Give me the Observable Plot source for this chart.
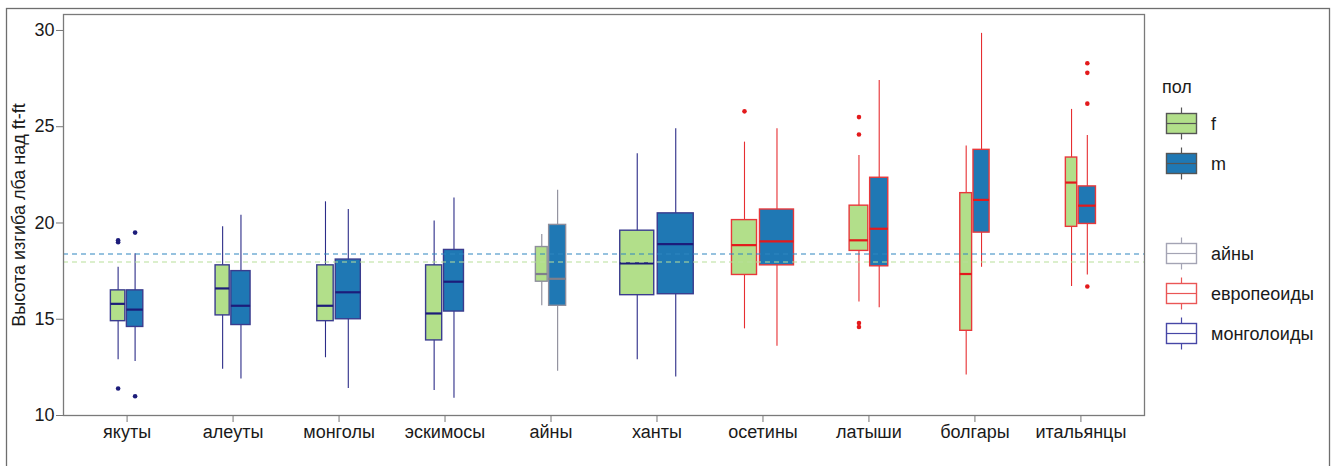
<!DOCTYPE html>
<html><head><meta charset="utf-8">
<script src="https://cdn.jsdelivr.net/npm/d3@7"></script>
<script src="https://cdn.jsdelivr.net/npm/@observablehq/plot@0.6"></script>
<style>
body{margin:0;background:#fff;}
#chart{position:relative;width:1335px;height:466px;overflow:hidden;}
</style>
</head><body><div id="chart"></div>
<script>
// ---- data ----
const categories = ["якуты","алеуты","монголы","эскимосы","айны","ханты","осетины","латыши","болгары","итальянцы"];
const raceGroup = ["монголоиды","монголоиды","монголоиды","монголоиды","айны","монголоиды","европеоиды","европеоиды","европеоиды","европеоиды"];
const sexes = ["f","m"];
// per category: [f, m]
const lowerWhisker = [[12.9,12.8],[12.4,11.9],[13.0,11.4],[11.3,10.9],[15.7,12.3],[12.9,12.0],[14.5,13.6],[15.9,15.6],[12.1,17.7],[16.7,17.3]];
const quartile1    = [[14.9,14.6],[15.2,14.7],[14.9,15.0],[13.9,15.4],[16.95,15.7],[16.25,16.3],[17.3,17.8],[18.55,17.75],[14.4,19.5],[19.8,19.95]];
const medians      = [[15.8,15.5],[16.6,15.7],[15.7,16.4],[15.3,16.95],[17.35,17.1],[17.9,18.9],[18.85,19.05],[19.1,19.7],[17.35,21.2],[22.1,20.9]];
const quartile3    = [[16.5,16.5],[17.8,17.5],[17.8,18.1],[17.8,18.6],[18.75,19.9],[19.6,20.5],[20.15,20.7],[20.9,22.35],[21.55,23.8],[23.4,21.9]];
const upperWhisker = [[17.7,18.4],[19.8,20.4],[21.1,20.7],[20.1,21.3],[19.4,21.7],[23.6,24.9],[24.2,24.9],[23.5,27.4],[24.0,29.85],[25.9,24.55]];
const sampleSize   = [[21,27],[20,37],[27,63],[26,40],[14,29],[116,130],[63,116],[35,33],[14,26],[13,30]];
const outliers     = [[[19.0,19.1,11.4],[19.5,11.0]],[[],[]],[[],[]],[[],[]],[[],[]],[[],[]],[[25.8],[]],[[25.5,24.6,14.8,14.6],[]],[[],[]],[[],[16.7,26.2,27.8,28.3]]];
const meanLines = [{sex:"m", value:18.39},{sex:"f", value:17.97}];
const yTicks = [10,15,20,25,30];
const yLabel = "Высота изгиба лба над ft-ft";
const legendTitle = "пол";
const raceLegend = ["айны","европеоиды","монголоиды"];

// ---- styles ----
const FONT = "'Liberation Sans', Arial, sans-serif";
const FS = 18;
const sexFill = {f:"#b2df8a", m:"#1f78b4"};
const raceColor = {"айны":"#7f7f8c","европеоиды":"#e31a1c","монголоиды":"#1c1c7a"};
const raceBox = {"айны":"#8e8e9c","европеоиды":"#e8383b","монголоиды":"#3a3c8e"};
const raceWhisk = {"айны":"#8a8a98","европеоиды":"#e62e31","монголоиды":"#2c2c88"};
const lineColor = {m:"#2f86c0", f:"#b8e09a"};

const W = 1335, H = 466;
const mL = 63, mR = 191, mT = 14, mB = 51;
const step = (W - mL - mR) / 10.2;
const maxBoxPx = 36;
const nMax = d3.max(sampleSize.flat());

// build box rows with varwidth + dodge
const boxes = [];
const outlierRows = [];
categories.forEach((c, i) => {
  const w = sampleSize[i].map(n => maxBoxPx * Math.sqrt(n / nMax) / step);
  const gap = 0.05 * (w[0] + w[1]);
  const total = w[0] + w[1] + gap;
  const start = i - total / 2;
  sexes.forEach((s, k) => {
    const x1 = k === 0 ? start : start + w[0] + gap;
    const x2 = x1 + w[k];
    const row = {cat: c, i, sex: s, race: raceGroup[i], x1, x2, xc: (x1 + x2) / 2,
      lw: lowerWhisker[i][k], q1: quartile1[i][k], med: medians[i][k], q3: quartile3[i][k], uw: upperWhisker[i][k]};
    boxes.push(row);
    outliers[i][k].forEach(v => outlierRows.push({xc: row.xc, v, race: row.race}));
  });
});

const chart = Plot.plot({
  width: W, height: H,
  marginLeft: mL, marginRight: mR, marginTop: mT, marginBottom: mB,
  style: {fontFamily: FONT, fontSize: FS + "px", color: "#1a1a1a", background: "#fff"},
  x: {domain: [-0.6, 9.6], axis: null},
  y: {domain: [10, 30.83], axis: null},
  marks: [
    Plot.axisX({ticks: d3.range(10), tickFormat: i => categories[i], tickSize: 7, tickPadding: 3, stroke: "#777", fill: "#1a1a1a", fontSize: FS, label: null}),
    Plot.axisY({ticks: yTicks, tickSize: 7, tickPadding: 2, stroke: "#777", fill: "#1a1a1a", fontSize: FS, label: null}),
    Plot.text([yLabel], {text: d => d, frameAnchor: "left", textAnchor: "middle", dx: -44, rotate: -90, fontSize: FS, fill: "#1a1a1a"}),
    Plot.ruleX(boxes, {x: "xc", y1: "lw", y2: "uw", stroke: d => raceWhisk[d.race], strokeWidth: 1.1}),
    Plot.rect(boxes, {x1: "x1", x2: "x2", y1: "q1", y2: "q3", fill: d => sexFill[d.sex], stroke: d => raceBox[d.race], strokeWidth: 1.4}),
    Plot.ruleY(boxes, {y: "med", x1: "x1", x2: "x2", stroke: d => raceColor[d.race], strokeWidth: 2.2}),
    Plot.dot(outlierRows, {x: "xc", y: "v", r: 2.3, fill: d => raceColor[d.race], stroke: null}),
    Plot.ruleY(meanLines, {y: "value", stroke: d => lineColor[d.sex], strokeWidth: 1.1, strokeDasharray: "5,4"}),
    Plot.frame({stroke: "#7a7a7a", strokeWidth: 1.3})
  ]
});
document.getElementById("chart").appendChild(chart);

// outer figure border + legend
const svg = d3.select(chart);
svg.append("rect").attr("x", 6.5).attr("y", 8.5).attr("width", 1323).attr("height", 480)
  .attr("fill", "none").attr("stroke", "#6e6e6e").attr("stroke-width", 1.3);

const lg = svg.append("g").attr("font-family", FONT).attr("font-size", FS).attr("fill", "#1a1a1a").attr("text-anchor", "start");
lg.append("text").attr("x", 1162).attr("y", 93).text(legendTitle);
function key(y0, fill, stroke) {
  const kx = 1166.5, kw = 30, kh = 20, cx = kx + kw / 2;
  lg.append("line").attr("x1", cx).attr("x2", cx).attr("y1", y0 - 6).attr("y2", y0 + kh + 6).attr("stroke", stroke).attr("stroke-width", 1.2);
  lg.append("rect").attr("x", kx).attr("y", y0).attr("width", kw).attr("height", kh).attr("fill", fill).attr("stroke", stroke).attr("stroke-width", 1.4);
  lg.append("line").attr("x1", kx).attr("x2", kx + kw).attr("y1", y0 + kh / 2).attr("y2", y0 + kh / 2).attr("stroke", stroke).attr("stroke-width", 1.2);
}
function label(y0, t) {
  lg.append("text").attr("x", 1211).attr("y", y0 + 10).attr("dy", "0.35em").text(t);
}
sexes.forEach((s, k) => { const y0 = 113.5 + k * 40; key(y0, sexFill[s], "#555"); label(y0, s); });
const raceKey = {"айны":"#a4a4b4","европеоиды":"#ea5656","монголоиды":"#4747a6"};
raceLegend.forEach((r, k) => { const y0 = 243.5 + k * 40; key(y0, "#fff", raceKey[r]); label(y0, r); });
</script>
</body></html>
